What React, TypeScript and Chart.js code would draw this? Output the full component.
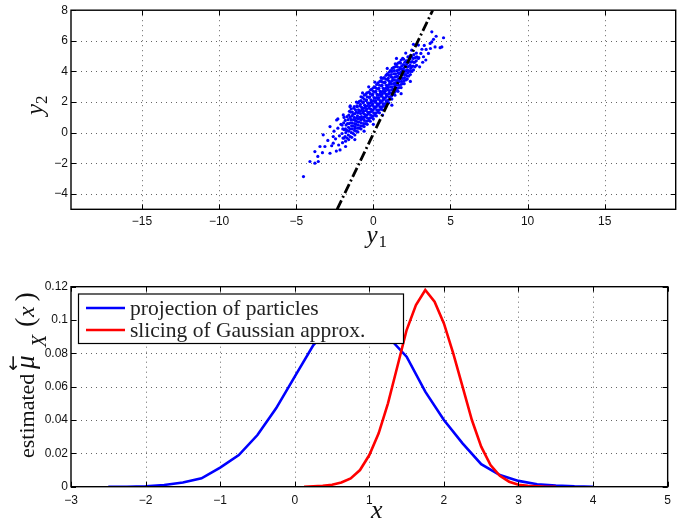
import React, { useEffect, useRef } from "react";
import { Chart, registerables } from "chart.js";

Chart.register(...registerables);

// ---------------- Top panel data (y1, y2 particle cloud) ----------------
const particles: number[][] = [
  // lower-left tail
  [-4.53, -2.86], [-4.11, -1.88], [-3.79, -1.99], [-3.57, -1.88], [-3.79, -1.23], [-3.46, -0.9],
  [-3.6, -1.55], [-3.14, -0.9], [-3.25, -0.14], [-3.3, -1.3], [-2.81, 0.4], [-2.81, -1.34],
  [-2.95, -0.5], [-2.7, -0.85], [-2.6, -0.68], [-2.6, -0.25], [-2.55, 0.1], [-2.38, 0.83],
  [-2.45, -0.4], [-2.3, 0.3], [-2.25, -0.8], [-2.16, -1.12], [-2.2, -0.2], [-2.1, 0.55],
  [-1.95, 1.16], [-1.51, 1.7], [-2.4, -1.2], [-1.8, -0.9], [-1.2, -0.45], [-2.3, 0.9], [-1.9, 1.0],
  // core
  [-2.0, -0.65], [-1.97, -0.35], [-2.03, -0.05], [-1.98, 0.25], [-2.02, 0.5],
  [-1.8, -0.55], [-1.83, -0.25], [-1.78, 0.0], [-1.81, 0.25], [-1.77, 0.5], [-1.82, 0.8],
  [-1.6, -0.45], [-1.62, -0.15], [-1.58, 0.1], [-1.61, 0.35], [-1.57, 0.6], [-1.63, 0.85], [-1.59, 1.15], [-1.55, 1.4],
  [-1.4, -0.3], [-1.42, 0.0], [-1.38, 0.25], [-1.41, 0.45], [-1.37, 0.65], [-1.43, 0.85], [-1.39, 1.1], [-1.36, 1.35], [-1.44, 1.55],
  [-1.2, -0.15], [-1.22, 0.15], [-1.18, 0.4], [-1.21, 0.6], [-1.17, 0.8], [-1.23, 1.0], [-1.19, 1.25], [-1.16, 1.5], [-1.24, 1.7], [-1.2, 0.3],
  [-1.0, 0.05], [-1.02, 0.3], [-0.98, 0.5], [-1.01, 0.7], [-0.97, 0.9], [-1.03, 1.1], [-0.99, 1.3], [-0.96, 1.5], [-1.04, 1.7], [-1.0, 1.95],
  [-0.8, 0.25], [-0.82, 0.45], [-0.78, 0.65], [-0.81, 0.85], [-0.77, 1.05], [-0.83, 1.25], [-0.79, 1.45], [-0.76, 1.65], [-0.84, 1.85], [-0.8, 2.1], [-0.8, 2.35],
  [-0.6, 0.4], [-0.62, 0.6], [-0.58, 0.8], [-0.61, 1.0], [-0.57, 1.2], [-0.63, 1.4], [-0.59, 1.6], [-0.56, 1.8], [-0.64, 2.0], [-0.6, 2.2], [-0.58, 2.45],
  [-0.4, 0.55], [-0.42, 0.75], [-0.38, 0.95], [-0.41, 1.15], [-0.37, 1.35], [-0.43, 1.55], [-0.39, 1.75], [-0.36, 1.95], [-0.44, 2.15], [-0.4, 2.35], [-0.42, 2.6],
  [-0.2, 0.75], [-0.22, 0.95], [-0.18, 1.15], [-0.21, 1.35], [-0.17, 1.55], [-0.23, 1.75], [-0.19, 1.95], [-0.16, 2.15], [-0.24, 2.35], [-0.2, 2.55], [-0.18, 2.8],
  [0.0, 0.9], [-0.02, 1.1], [0.02, 1.3], [-0.01, 1.5], [0.03, 1.7], [-0.03, 1.9], [0.01, 2.1], [0.04, 2.3], [-0.04, 2.5], [0.0, 2.7], [0.02, 2.95],
  [0.2, 1.1], [0.18, 1.3], [0.22, 1.5], [0.19, 1.7], [0.23, 1.9], [0.17, 2.1], [0.21, 2.3], [0.24, 2.5], [0.16, 2.7], [0.2, 2.9], [0.22, 3.15],
  [0.4, 1.3], [0.38, 1.5], [0.42, 1.7], [0.39, 1.9], [0.43, 2.1], [0.37, 2.3], [0.41, 2.5], [0.44, 2.7], [0.36, 2.9], [0.4, 3.1], [0.42, 3.35],
  [0.6, 1.5], [0.58, 1.7], [0.62, 1.9], [0.59, 2.1], [0.63, 2.3], [0.57, 2.5], [0.61, 2.7], [0.64, 2.9], [0.56, 3.1], [0.6, 3.3], [0.62, 3.55],
  [0.8, 1.7], [0.78, 1.9], [0.82, 2.1], [0.79, 2.3], [0.83, 2.5], [0.77, 2.7], [0.81, 2.9], [0.84, 3.1], [0.76, 3.3], [0.8, 3.5], [0.82, 3.75],
  [1.0, 1.95], [0.98, 2.15], [1.02, 2.35], [0.99, 2.55], [1.03, 2.75], [0.97, 2.95], [1.01, 3.15], [1.04, 3.35], [0.96, 3.55], [1.0, 3.75], [1.02, 3.95],
  [1.2, 2.2], [1.18, 2.4], [1.22, 2.6], [1.19, 2.8], [1.23, 3.0], [1.17, 3.2], [1.21, 3.4], [1.24, 3.6], [1.16, 3.8], [1.2, 4.0], [1.22, 4.2],
  [1.4, 2.45], [1.38, 2.65], [1.42, 2.85], [1.39, 3.05], [1.43, 3.25], [1.37, 3.45], [1.41, 3.65], [1.44, 3.85], [1.36, 4.05], [1.4, 4.3], [1.42, 4.5],
  [1.6, 2.7], [1.58, 2.9], [1.62, 3.1], [1.59, 3.3], [1.63, 3.5], [1.57, 3.7], [1.61, 3.9], [1.64, 4.1], [1.56, 4.3], [1.6, 4.55],
  [1.8, 2.95], [1.78, 3.15], [1.82, 3.35], [1.79, 3.55], [1.83, 3.75], [1.77, 3.95], [1.81, 4.15], [1.84, 4.35], [1.76, 4.55], [1.8, 4.75],
  [2.0, 3.2], [1.98, 3.4], [2.02, 3.6], [1.99, 3.8], [2.03, 4.0], [1.97, 4.2], [2.01, 4.4], [2.04, 4.6], [1.96, 4.8],
  [2.2, 3.5], [2.18, 3.7], [2.22, 3.9], [2.19, 4.1], [2.23, 4.3], [2.17, 4.5], [2.21, 4.7], [2.24, 4.95],
  [2.4, 3.8], [2.38, 4.0], [2.42, 4.2], [2.39, 4.4], [2.43, 4.6], [2.37, 4.8], [2.41, 5.05],
  [2.6, 4.1], [2.58, 4.35], [2.62, 4.6], [2.59, 4.85], [2.63, 5.1],
  [2.8, 4.4], [2.78, 4.7], [2.82, 4.95], [2.79, 5.2],
  // core, in-between columns
  [-1.9, -0.35], [-1.88, 0.2], [-1.92, 0.65],
  [-1.7, -0.35], [-1.72, 0.15], [-1.68, 0.6], [-1.71, 1.05],
  [-1.5, -0.25], [-1.52, 0.25], [-1.48, 0.65], [-1.51, 1.0], [-1.47, 1.35],
  [-1.3, -0.05], [-1.32, 0.45], [-1.28, 0.85], [-1.31, 1.2], [-1.27, 1.6],
  [-1.1, 0.1], [-1.12, 0.55], [-1.08, 0.95], [-1.11, 1.35], [-1.07, 1.75], [-1.1, 0.75],
  [-0.9, 0.3], [-0.92, 0.7], [-0.88, 1.0], [-0.91, 1.4], [-0.87, 1.75], [-0.9, 2.05],
  [-0.7, 0.45], [-0.72, 0.9], [-0.68, 1.3], [-0.71, 1.55], [-0.67, 1.95], [-0.7, 2.3],
  [-0.5, 0.6], [-0.52, 1.05], [-0.48, 1.45], [-0.51, 1.7], [-0.47, 2.1], [-0.5, 2.5],
  [-0.3, 0.8], [-0.32, 1.25], [-0.28, 1.6], [-0.31, 1.9], [-0.27, 2.3], [-0.3, 2.65],
  [-0.1, 1.0], [-0.12, 1.4], [-0.08, 1.8], [-0.11, 2.05], [-0.07, 2.45], [-0.1, 2.85],
  [0.1, 1.15], [0.08, 1.6], [0.12, 2.0], [0.09, 2.25], [0.13, 2.65], [0.1, 3.0],
  [0.3, 1.35], [0.28, 1.8], [0.32, 2.2], [0.29, 2.45], [0.33, 2.85], [0.3, 3.25],
  [0.5, 1.55], [0.48, 2.0], [0.52, 2.4], [0.49, 2.65], [0.53, 3.05], [0.5, 3.4],
  [0.7, 1.75], [0.68, 2.2], [0.72, 2.6], [0.69, 2.85], [0.73, 3.25], [0.7, 3.6],
  [0.9, 2.0], [0.88, 2.4], [0.92, 2.8], [0.89, 3.05], [0.93, 3.45], [0.9, 3.85],
  [1.1, 2.25], [1.08, 2.6], [1.12, 3.0], [1.09, 3.25], [1.13, 3.65], [1.1, 4.05],
  [1.3, 2.5], [1.28, 2.85], [1.32, 3.2], [1.29, 3.45], [1.33, 3.85], [1.3, 4.25],
  [1.5, 2.75], [1.48, 3.1], [1.52, 3.4], [1.49, 3.65], [1.53, 4.05], [1.5, 4.45],
  [1.7, 2.95], [1.68, 3.35], [1.72, 3.6], [1.69, 3.85], [1.73, 4.25], [1.7, 4.6],
  [1.9, 3.2], [1.88, 3.55], [1.92, 3.85], [1.89, 4.1], [1.93, 4.45], [1.9, 4.85],
  [2.1, 3.45], [2.08, 3.8], [2.12, 4.05], [2.09, 4.35], [2.13, 4.7],
  [2.3, 3.7], [2.28, 4.05], [2.32, 4.35], [2.29, 4.6], [2.33, 4.95],
  [2.5, 4.0], [2.48, 4.3], [2.52, 4.65], [2.49, 4.95],
  [2.7, 4.3], [2.68, 4.6], [2.72, 4.9],
  // fuzzy edges
  [-1.5, 1.75], [-1.1, 2.0], [-0.7, 2.6], [-0.3, 3.0], [0.1, 3.3], [0.5, 3.6], [-0.6, 0.1], [0.0, 0.55],
  [0.6, 1.15], [1.2, 1.8], [1.8, 2.55], [2.4, 3.35], [3.0, 4.3], [3.2, 4.6], [2.95, 4.9], [3.4, 4.75],
  [0.9, 4.2], [1.5, 4.85], [2.1, 5.2],
  // upper-right tail
  [4.55, 6.2], [4.07, 6.3], [4.33, 5.55], [3.79, 5.93], [3.42, 5.44], [3.08, 5.18], [3.57, 5.18],
  [2.92, 5.72], [2.6, 5.77], [2.49, 5.39], [3.9, 6.1], [3.3, 5.7], [3.7, 5.5], [3.15, 5.45], [4.0, 5.6],
  [3.79, 6.59], [4.44, 5.6], [3.68, 5.83], [3.25, 4.96], [2.92, 4.85],
];
const sliceLineY1 = [-2.35, 3.85];
const sliceLineY2 = [-5, 8];
const topXTicks = [-15, -10, -5, 0, 5, 10, 15];
const topYTicks = [-4, -2, 0, 2, 4, 6, 8];

// ---------------- Bottom panel data ----------------
const projX = [-2.5, -2.25, -2.0, -1.75, -1.5, -1.25, -1.0, -0.75, -0.5, -0.25, 0, 0.25, 0.5, 0.75,
  1.0, 1.25, 1.5, 1.75, 2.0, 2.25, 2.5, 2.75, 3.0, 3.25, 3.5, 3.75, 4.0];
const projY = [0, 0, 0.0003, 0.001, 0.0025, 0.005, 0.0115, 0.019, 0.031, 0.047, 0.066, 0.085, 0.097, 0.1,
  0.098, 0.09, 0.078, 0.057, 0.04, 0.026, 0.0135, 0.007, 0.0035, 0.0015, 0.0007, 0.0002, 0];
const gaussX = [0.125, 0.25, 0.375, 0.5, 0.625, 0.75, 0.875, 1.0, 1.125, 1.25, 1.375, 1.5, 1.625, 1.75,
  1.875, 2.0, 2.125, 2.25, 2.375, 2.5, 2.625, 2.75, 2.875, 3.0, 3.125, 3.25, 3.375, 3.5];
const gaussY = [0, 0.0003, 0.0006, 0.0012, 0.0025, 0.005, 0.01, 0.019, 0.032, 0.05, 0.072, 0.094, 0.109, 0.118,
  0.111, 0.098, 0.08, 0.06, 0.04, 0.024, 0.013, 0.0065, 0.003, 0.0012, 0.0005, 0.0002, 0, 0];
const bottomXTicks = [-3, -2, -1, 0, 1, 2, 3, 4, 5];
const bottomYTicks = [0, 0.02, 0.04, 0.06, 0.08, 0.1, 0.12];
const legendLabels = ["projection of particles", "slicing of Gaussian approx."];

const BLUE = "#0000ff";
const RED = "#ff0000";
const TICK_FONT = { family: '"Liberation Sans", Arial, Helvetica, sans-serif', size: 12 };
const SERIF = '"Liberation Serif", "Times New Roman", serif';

const fmt = (v: number) => (v < 0 ? "\u2212" + Math.abs(v) : String(v));

function drawGrid(chart: any, xt: number[], yt: number[]) {
  const { ctx, chartArea: a, scales } = chart;
  ctx.save();
  ctx.strokeStyle = "#666";
  ctx.lineWidth = 1;
  ctx.setLineDash([1, 4]);
  for (const v of xt) {
    const p = Math.round(scales.x.getPixelForValue(v)) + 0.5;
    if (p <= a.left + 1 || p >= a.right - 1) continue;
    ctx.beginPath(); ctx.moveTo(p, a.top); ctx.lineTo(p, a.bottom); ctx.stroke();
  }
  for (const v of yt) {
    const p = Math.round(scales.y.getPixelForValue(v)) + 0.5;
    if (p <= a.top + 1 || p >= a.bottom - 1) continue;
    ctx.beginPath(); ctx.moveTo(a.left, p); ctx.lineTo(a.right, p); ctx.stroke();
  }
  ctx.restore();
}

function drawFrame(chart: any, xt: number[], yt: number[]) {
  const { ctx, chartArea: a, scales } = chart;
  ctx.save();
  ctx.setLineDash([]);
  ctx.strokeStyle = "#000";
  ctx.lineWidth = 1;
  const L = 5;
  for (const v of xt) {
    const p = Math.round(scales.x.getPixelForValue(v)) + 0.5;
    ctx.beginPath();
    ctx.moveTo(p, a.bottom); ctx.lineTo(p, a.bottom - L);
    ctx.moveTo(p, a.top); ctx.lineTo(p, a.top + L);
    ctx.stroke();
  }
  for (const v of yt) {
    const p = Math.round(scales.y.getPixelForValue(v)) + 0.5;
    ctx.beginPath();
    ctx.moveTo(a.left, p); ctx.lineTo(a.left + L, p);
    ctx.moveTo(a.right, p); ctx.lineTo(a.right - L, p);
    ctx.stroke();
  }
  ctx.lineWidth = 1.4;
  ctx.strokeRect(a.left, a.top, a.right - a.left, a.bottom - a.top);
  ctx.restore();
}

function txt(ctx: CanvasRenderingContext2D, s: string, x: number, y: number, font: string) {
  ctx.font = font;
  ctx.fillText(s, x, y);
}

const topPlugin = {
  id: "topDecor",
  beforeDatasetsDraw(chart: any) { drawGrid(chart, topXTicks, topYTicks); },
  afterDatasetsDraw(chart: any) { drawFrame(chart, topXTicks, topYTicks); },
  afterDraw(chart: any) {
    const ctx: CanvasRenderingContext2D = chart.ctx;
    ctx.save();
    ctx.fillStyle = "#111";
    ctx.textBaseline = "alphabetic";
    ctx.textAlign = "left";
    // x title: y_1
    txt(ctx, "y", 366.5, 242.5, `italic 25px ${SERIF}`);
    txt(ctx, "1", 378.5, 246.5, `17px ${SERIF}`);
    // y title: y_2 (rotated)
    ctx.translate(42.5, 115);
    ctx.rotate(-Math.PI / 2);
    txt(ctx, "y", 0, 0, `italic 25px ${SERIF}`);
    txt(ctx, "2", 11, 4.5, `17px ${SERIF}`);
    ctx.restore();
  },
};

const bottomPlugin = {
  id: "bottomDecor",
  beforeDatasetsDraw(chart: any) { drawGrid(chart, bottomXTicks, bottomYTicks); },
  afterDatasetsDraw(chart: any) {
    const ctx: CanvasRenderingContext2D = chart.ctx;
    // legend box
    ctx.save();
    const bx = 78.5, by = 34, bw = 325, bh = 49.5;
    ctx.fillStyle = "#fff";
    ctx.fillRect(bx, by, bw, bh);
    ctx.strokeStyle = "#000";
    ctx.lineWidth = 1.2;
    ctx.strokeRect(bx, by, bw, bh);
    const ds = chart.data.datasets;
    const rows = [{ label: legendLabels[0], color: ds[1].borderColor, y: 48 },
                  { label: legendLabels[1], color: ds[0].borderColor, y: 70 }];
    for (const r of rows) {
      ctx.strokeStyle = r.color;
      ctx.lineWidth = 2.6;
      ctx.beginPath(); ctx.moveTo(86, r.y); ctx.lineTo(125, r.y); ctx.stroke();
      ctx.fillStyle = "#222";
      ctx.textBaseline = "middle";
      txt(ctx, r.label, 130, r.y + 1, `21.5px ${SERIF}`);
    }
    ctx.restore();
    drawFrame(chart, bottomXTicks, bottomYTicks);
  },
  afterDraw(chart: any) {
    const ctx: CanvasRenderingContext2D = chart.ctx;
    ctx.save();
    ctx.fillStyle = "#111";
    ctx.textBaseline = "alphabetic";
    ctx.textAlign = "left";
    // x title
    txt(ctx, "x", 371, 257.5, `italic 26px ${SERIF}`);
    // y title, rotated
    ctx.translate(33.5, 198);
    ctx.rotate(-Math.PI / 2);
    txt(ctx, "estimated", 0, 0, `22px ${SERIF}`);
    txt(ctx, "\u03bc", 89, 0, `italic 27px ${SERIF}`);
    txt(ctx, "\u2190", 87, -15, `19px "DejaVu Sans", sans-serif`);
    txt(ctx, "X", 111, 12, `italic 20px ${SERIF}`);
    txt(ctx, "(", 131, 0, `28px ${SERIF}`);
    txt(ctx, "x", 141, 0, `italic 24px ${SERIF}`);
    txt(ctx, ")", 156.5, 0, `28px ${SERIF}`);
    ctx.restore();
  },
};

function axis(min: number, max: number, ticks: number[], pos: "x" | "y", size: number, pad: number) {
  return {
    type: "linear",
    position: pos === "x" ? "bottom" : "left",
    min, max,
    grid: { display: false, drawTicks: false },
    border: { display: false },
    afterBuildTicks: (s: any) => { s.ticks = ticks.map((v) => ({ value: v })); },
    afterFit: (s: any) => { if (pos === "x") s.height = size; else s.width = size; },
    ticks: { autoSkip: false, maxRotation: 0, padding: pad, font: TICK_FONT, color: "#111", callback: (v: any) => fmt(Number(v)) },
  };
}

function TopChart() {
  const ref = useRef<HTMLCanvasElement>(null);
  useEffect(() => {
    const chart = new Chart(ref.current as HTMLCanvasElement, {
      type: "scatter",
      data: {
        datasets: [
          {
            label: "slice",
            data: sliceLineY1.map((x, i) => ({ x, y: sliceLineY2[i] })),
            showLine: true,
            borderColor: "#000",
            borderWidth: 2.8,
            borderDash: [10, 3, 2, 3],
            pointRadius: 0,
          } as any,
          {
            label: "particles",
            data: particles.map(([x, y]) => ({ x, y })),
            backgroundColor: BLUE,
            borderWidth: 0,
            pointRadius: 1.6,
            pointHoverRadius: 1.6,
          },
        ],
      },
      options: {
        animation: false,
        responsive: false,
        events: [],
        layout: { padding: { top: 10, right: 2.3, left: 0, bottom: 0 } },
        plugins: { legend: { display: false }, tooltip: { enabled: false } },
        scales: {
          x: axis(-19.6, 19.6, topXTicks, "x", 45.7, 5) as any,
          y: axis(-5, 8, topYTicks, "y", 71, 3) as any,
        },
      },
      plugins: [topPlugin],
    });
    return () => chart.destroy();
  }, []);
  return <canvas ref={ref} width={678} height={255} style={{ position: "absolute", left: 0, top: 0, display: "block" }} />;
}

function BottomChart() {
  const ref = useRef<HTMLCanvasElement>(null);
  useEffect(() => {
    const chart = new Chart(ref.current as HTMLCanvasElement, {
      type: "scatter",
      data: {
        datasets: [
          {
            label: legendLabels[1],
            data: gaussX.map((x, i) => ({ x, y: gaussY[i] })),
            showLine: true,
            borderColor: RED,
            borderWidth: 2.6,
            pointRadius: 0,
          } as any,
          {
            label: legendLabels[0],
            data: projX.map((x, i) => ({ x, y: projY[i] })),
            showLine: true,
            borderColor: BLUE,
            borderWidth: 2.6,
            pointRadius: 0,
          } as any,
        ],
      },
      options: {
        animation: false,
        responsive: false,
        events: [],
        layout: { padding: { top: 26.7, right: 3, left: 0, bottom: 0 } },
        plugins: { legend: { display: false }, tooltip: { enabled: false } },
        scales: {
          x: axis(-3, 5, bottomXTicks, "x", 33.3, 7) as any,
          y: axis(0, 0.12, bottomYTicks, "y", 71, 3) as any,
        },
      },
      plugins: [bottomPlugin],
    });
    return () => chart.destroy();
  }, []);
  return <canvas ref={ref} width={678} height={260} style={{ position: "absolute", left: 0, top: 260, display: "block" }} />;
}

export default function App() {
  return (
    <div style={{ position: "absolute", left: 0, top: 0, width: 678, height: 520, background: "#fff" }}>
      <TopChart />
      <BottomChart />
    </div>
  );
}
